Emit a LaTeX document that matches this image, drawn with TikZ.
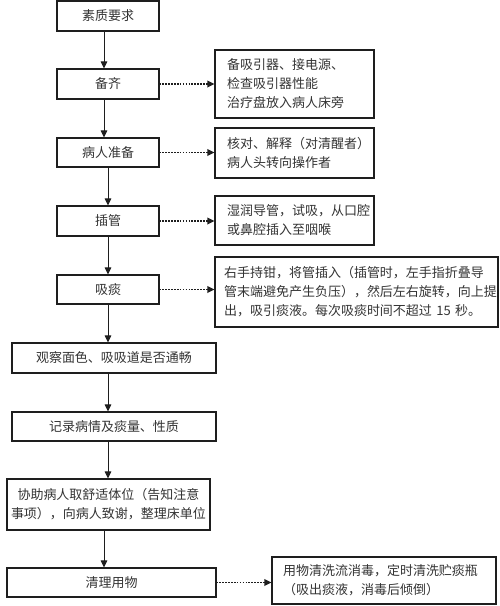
\documentclass[tikz,border=0pt]{standalone}
\usepackage{fontspec}
\setmainfont{Noto Sans CJK SC}
\usetikzlibrary{arrows.meta}
\definecolor{txt}{HTML}{333333}
\definecolor{ln}{HTML}{1E1E1E}
\begin{document}
\begin{tikzpicture}[x=1pt,y=-1pt,
  box/.style={draw=ln,line width=1.1pt,text=txt,inner xsep=0pt,inner ysep=0pt,
    font=\fontsize{13}{19}\selectfont,align=center},
  side/.style={box,align=left},
  arr/.style={draw=ln,line width=1pt,-{Triangle[length=7pt,width=6.5pt]}},
  darr/.style={draw=ln,line width=1.7pt,dash pattern=on 1.6pt off 1.3pt,-{Triangle[length=7pt,width=6.5pt]}}]
\useasboundingbox (0,0) rectangle (500,606);
% main column
\node[box,minimum width=102pt,minimum height=30pt] (B1) at (108,16) {素质要求};
\node[box,minimum width=102pt,minimum height=30pt] (B2) at (108,84) {备齐};
\node[box,minimum width=102pt,minimum height=29pt] (B3) at (108,152.5) {病人准备};
\node[box,minimum width=102pt,minimum height=30pt] (B4) at (108,221) {插管};
\node[box,minimum width=102pt,minimum height=29pt] (B5) at (108,289.5) {吸痰};
\node[box,minimum width=204pt,minimum height=30pt] (B6) at (114,358) {观察面色、吸吸道是否通畅};
\node[box,minimum width=204pt,minimum height=29pt] (B7) at (114,426.5) {记录病情及痰量、性质};
\node[box,minimum width=203pt,minimum height=51pt] (B8) at (108.5,504.5) {协助病人取舒适体位（告知注意\\事项），向病人致谢，整理床单位};
\node[box,minimum width=209pt,minimum height=29pt] (B9) at (111.5,582.5) {清理用物};
% side boxes
\node[side,inner xsep=12pt,text width=135pt,minimum width=159pt,minimum height=68pt] (S1) at (294.5,84)
  {备吸引器、接电源、\\检查吸引器性能\\治疗盘放入病人床旁};
\node[side,inner xsep=12pt,text width=135pt,minimum width=159pt,minimum height=50pt] (S2) at (294.5,153)
  {核对、解释（对清醒者）\\病人头转向操作者};
\node[side,inner xsep=12pt,text width=135pt,minimum width=159pt,minimum height=49pt] (S3) at (294.5,220.5)
  {湿润导管，试吸，从口腔\\或鼻腔插入至咽喉};
\node[side,inner xsep=9pt,text width=265pt,minimum width=283pt,minimum height=70pt] (S4) at (356.5,292)
  {右手持钳，将管插入（插管时，左手指折叠导\\管末端避免产生负压），然后左右旋转，向上提\\出，吸引痰液。每次吸痰时间不超过 15 秒。};
\node[side,inner xsep=11pt,text width=202pt,minimum width=224pt,minimum height=47pt] (S5) at (384,580.5)
  {用物清洗流消毒，定时清洗贮痰瓶\\（吸出痰液，消毒后倾倒）};
% solid arrows
\coordinate (xl) at ([xshift=-4pt]B1.south);
\draw[arr] (xl) -- (xl |- B2.north);
\draw[arr] (xl |- B2.south) -- (xl |- B3.north);
\draw[arr] (B3.south) -- (B4.north);
\draw[arr] (B4.south) -- (B5.north);
\draw[arr] (B5.south) -- (B5.south |- B6.north);
\draw[arr] (B5.south |- B6.south) -- (B5.south |- B7.north);
\draw[arr] (B5.south |- B7.south) -- (B5.south |- B8.north);
\draw[arr] (xl |- B8.south) -- (xl |- B9.north);
% dotted arrows
\draw[darr] (B2.east) -- (B2.east -| S1.west);
\draw[darr] (B3.east) -- (B3.east -| S2.west);
\draw[darr] (B4.east) -- (B4.east -| S3.west);
\draw[darr] (B5.east) -- (B5.east -| S4.west);
\draw[darr] (B9.east) -- (B9.east -| S5.west);
\end{tikzpicture}
\end{document}
